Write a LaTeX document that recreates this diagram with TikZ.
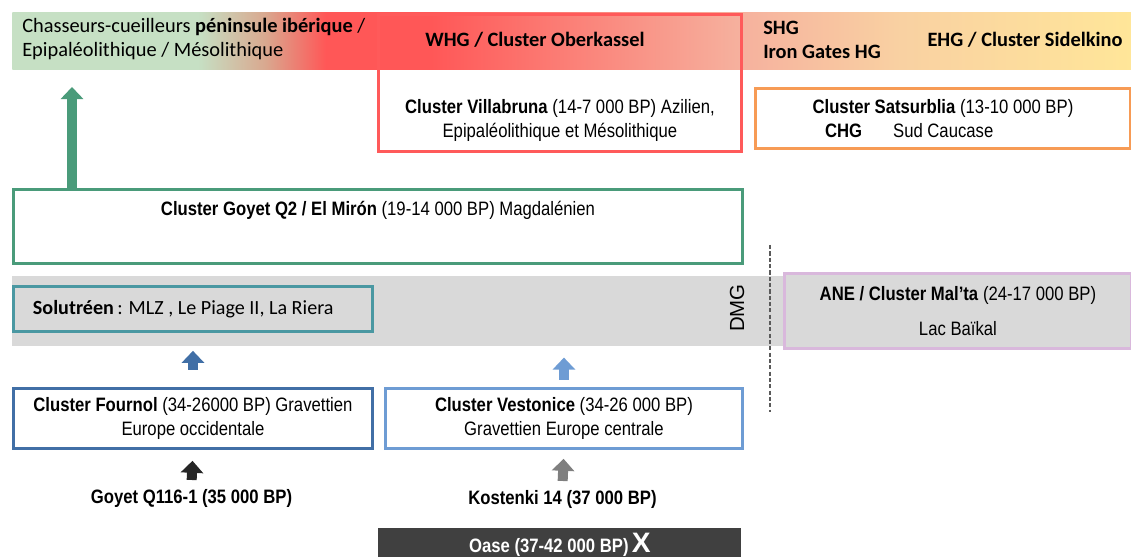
\documentclass[tikz,border=0pt]{standalone}
\usepackage{fontspec}
\setmainfont{Liberation Sans}[FakeStretch=0.86]
\newfontfamily\calfont{Carlito}
\newfontfamily\widefont{Liberation Sans}
\usetikzlibrary{arrows.meta}

\definecolor{greenc}{HTML}{4A9B7A}
\definecolor{tealc}{HTML}{4A98A2}
\definecolor{bluec}{HTML}{416FA6}
\definecolor{lbluec}{HTML}{6E9CD4}
\definecolor{redc}{HTML}{FF5A5A}
\definecolor{orangec}{HTML}{F79B55}
\definecolor{lilacc}{HTML}{D9B8DC}
\definecolor{darkc}{HTML}{262626}
\definecolor{grayc}{HTML}{7F7F7F}
\definecolor{dashc}{HTML}{5A5A5A}
\definecolor{oasec}{HTML}{404040}
\definecolor{bandgray}{HTML}{D9D9D9}
\definecolor{bandgreen}{HTML}{C6E0C4}
\definecolor{bandtan}{HTML}{D9A88F}
\definecolor{bandred}{HTML}{FF5757}
\definecolor{bandsalmon}{HTML}{F6B19E}
\definecolor{bandpeach}{HTML}{F9D1A2}
\definecolor{bandyellow}{HTML}{FFE699}

\pgfdeclarehorizontalshading{bandshade}{100bp}{color(0bp)=(bandgreen); color(25bp)=(bandgreen);
  color(33.3bp)=(bandgreen); color(36.3bp)=(bandtan); color(39bp)=(bandred); color(43.7bp)=(bandred);
  color(57.5bp)=(bandsalmon); color(64.7bp)=(bandpeach); color(75bp)=(bandyellow); color(100bp)=(bandyellow)}

\tikzset{
  txt/.style={font=\fontsize{13.8}{17}\selectfont, align=center},
  cal/.style={font=\calfont\fontsize{14.5}{17}\selectfont, align=left},
  box/.style={txt, draw, line width=2pt, inner sep=0pt, anchor=north west},
  blockarrow/.style={draw=#1, line width=0.25cm, -{Triangle[length=0.3cm,width=0.55cm]}},
}

\begin{document}
\begin{tikzpicture}[x=0.025cm, y=-0.025cm]
\useasboundingbox (0,0) rectangle (1131,557);

% bandeau du haut
\node[shade, shading=bandshade, minimum width=27.975cm, minimum height=1.425cm, inner sep=0pt, anchor=north west] (band) at (12,12) {};
\node[cal, anchor=west, inner sep=0pt] (hgib) at (22,39) {Chasseurs-cueilleurs \textbf{péninsule ibérique} /\\Epipaléolithique / Mésolithique};
\node[cal] (whg) at (535,40) {\textbf{WHG / Cluster Oberkassel}};
\node[cal, anchor=west, inner sep=0pt] (shg) at (763,40) {\textbf{SHG}\\\textbf{Iron Gates HG}};
\node[cal] (ehg) at (1025,40) {\textbf{EHG / Cluster Sidelkino}};

\node[box, draw=redc, minimum width=9.075cm, minimum height=3.425cm,
  label={[txt, anchor=south, yshift=0.15cm]south:{\textbf{Cluster Villabruna} (14-7 000 BP) Azilien,\\Epipaléolithique et Mésolithique}}] (villabruna) at (377,13) {};
\node[box, draw=orangec, minimum width=9.375cm, minimum height=1.5cm] (satsurblia) at (754,87)
  {\textbf{Cluster Satsurblia} (13-10 000 BP)\\\textbf{CHG}\hspace{22pt}Sud Caucase\hspace*{48pt}};

\node[box, draw=greenc, minimum width=18.225cm, minimum height=1.85cm,
  label={[txt, anchor=north, yshift=-0.2cm]north:{\textbf{Cluster Goyet Q2 / El Mirón} (19-14 000 BP) Magdalénien}}] (goyet) at (12,188) {};
\coordinate (gtip) at (72,87);
\draw[blockarrow=greenc] (goyet.north -| gtip) -- (gtip);

% bande grise DMG
\node[fill=bandgray, minimum width=19.275cm, minimum height=1.75cm, inner sep=0pt, anchor=north west] (dmgband) at (12,276) {};
\node[box, draw=tealc, minimum width=8.975cm, minimum height=1.125cm,
  label={[cal, font=\calfont\fontsize{14.3}{17}\selectfont, anchor=west, xshift=0.4cm]west:{\textbf{Solutréen}\,: MLZ , Le Piage II, La Riera}}] (solutreen) at (12,285) {};
\node[font=\widefont\fontsize{14.5}{17}\selectfont, rotate=90] (dmg) at (737,308) {DMG};
\coordinate (dtop) at (770,245);
\coordinate (dbot) at (770,412);
\draw[line width=1.4pt, dash pattern=on 3pt off 1.5pt, draw=dashc] (dtop) -- (dbot);
\node[box, draw=lilacc, fill=bandgray, minimum width=8.675cm, minimum height=1.875cm] (malta) at (783,272)
  {\textbf{ANE / Cluster Mal’ta} (24-17 000 BP)\\[8pt]Lac Baïkal};

% Gravettien
\node[box, draw=bluec, minimum width=8.975cm, minimum height=1.5cm] (fournol) at (12,387)
  {\textbf{Cluster Fournol} (34-26000 BP) Gravettien\\Europe occidentale};
\node[box, draw=lbluec, minimum width=8.925cm, minimum height=1.5cm] (vestonice) at (384,387)
  {\textbf{Cluster Vestonice} (34-26 000 BP)\\Gravettien Europe centrale};
\draw[blockarrow=bluec, shorten <=0.425cm, shorten >=0.45cm] (fournol.north) -- (solutreen.south);
\draw[blockarrow=lbluec, shorten <=0.175cm, shorten >=0.275cm] (vestonice.north) -- (vestonice.north |- dmgband.south);

\node[txt] (goyetq) at (191.5,498) {\textbf{Goyet Q116-1 (35 000 BP)}};
\node[txt] (kostenki) at (562.5,499) {\textbf{Kostenki 14 (37 000 BP)}};
\draw[blockarrow=darkc, shorten <=0.1cm, shorten >=0.275cm] (goyetq.north) -- (fournol.south);
\draw[blockarrow=grayc, shorten <=0.1cm, shorten >=0.225cm] (kostenki.north) -- (vestonice.south);

\node[txt, fill=oasec, text=white, minimum width=9.075cm, minimum height=0.85cm, inner sep=0pt, anchor=north west] (oase) at (378,528)
  {\textbf{Oase (37-42 000 BP)}\,\textbf{\widefont\fontsize{20}{20}\selectfont X}};
\end{tikzpicture}
\end{document}
